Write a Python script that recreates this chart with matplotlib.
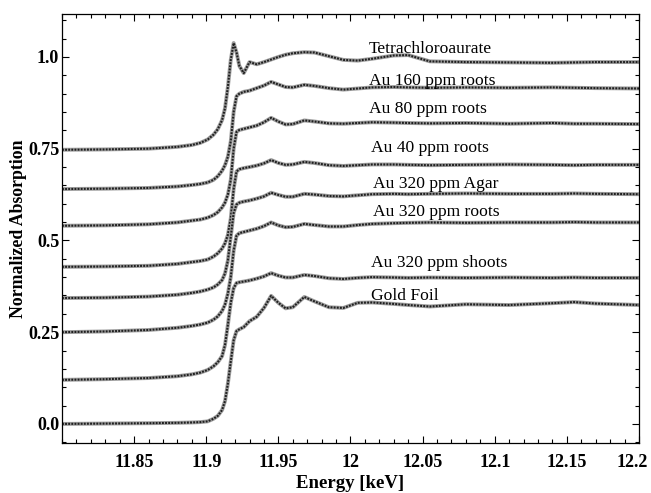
import matplotlib
matplotlib.use("Agg")
import matplotlib.pyplot as plt
import matplotlib.transforms as mtransforms
from matplotlib.ticker import FixedLocator, MultipleLocator

# energy grid shared by all spectra (keV)
energy = [11.800, 11.830, 11.860, 11.880, 11.890, 11.896, 11.901, 11.905,
          11.908, 11.911, 11.913, 11.915, 11.917, 11.919, 11.921, 11.923,
          11.926, 11.930, 11.935, 11.940, 11.945, 11.950, 11.955, 11.960,
          11.968, 11.975, 11.985, 11.995, 12.005, 12.015, 12.030, 12.040,
          12.055, 12.080, 12.110, 12.140, 12.155, 12.170, 12.200]

tetrachloroaurate = [0.747, 0.748, 0.750, 0.755, 0.760, 0.766, 0.775, 0.788,
                     0.803, 0.828, 0.860, 0.918, 0.992, 1.038, 1.012, 0.975,
                     0.956, 0.986, 0.980, 0.986, 0.993, 1.000, 1.006, 1.010,
                     1.013, 1.012, 1.002, 0.992, 0.990, 0.995, 1.004, 1.005,
                     0.988, 0.986, 0.985, 0.984, 0.985, 0.986, 0.986]

au160_roots = [0.640, 0.641, 0.643, 0.647, 0.651, 0.654, 0.658, 0.665,
               0.675, 0.690, 0.705, 0.728, 0.770, 0.850, 0.893, 0.900,
               0.905, 0.908, 0.915, 0.922, 0.932, 0.925, 0.918, 0.917,
               0.924, 0.921, 0.915, 0.911, 0.914, 0.917, 0.918, 0.917,
               0.916, 0.917, 0.916, 0.917, 0.916, 0.915, 0.914]

au80_roots = [0.540, 0.541, 0.544, 0.549, 0.554, 0.557, 0.562, 0.569,
              0.577, 0.590, 0.603, 0.625, 0.665, 0.750, 0.796, 0.801,
              0.804, 0.808, 0.813, 0.822, 0.834, 0.824, 0.816, 0.817,
              0.827, 0.824, 0.819, 0.818, 0.820, 0.822, 0.821, 0.820,
              0.819, 0.820, 0.818, 0.820, 0.818, 0.818, 0.817]

au40_roots = [0.428, 0.429, 0.431, 0.436, 0.441, 0.444, 0.448, 0.456,
              0.465, 0.478, 0.492, 0.515, 0.560, 0.640, 0.688, 0.694,
              0.697, 0.700, 0.704, 0.710, 0.719, 0.711, 0.706, 0.707,
              0.714, 0.711, 0.705, 0.703, 0.705, 0.707, 0.707, 0.706,
              0.705, 0.706, 0.707, 0.706, 0.705, 0.706, 0.706]

au320_agar = [0.343, 0.344, 0.347, 0.352, 0.357, 0.361, 0.366, 0.372,
              0.380, 0.392, 0.410, 0.445, 0.510, 0.575, 0.598, 0.603,
              0.606, 0.609, 0.614, 0.620, 0.630, 0.624, 0.619, 0.619,
              0.627, 0.625, 0.621, 0.620, 0.623, 0.626, 0.627, 0.626,
              0.627, 0.628, 0.627, 0.627, 0.628, 0.627, 0.626]

au320_roots = [0.250, 0.252, 0.256, 0.262, 0.267, 0.271, 0.276, 0.284,
               0.293, 0.308, 0.325, 0.355, 0.400, 0.472, 0.513, 0.520,
               0.523, 0.527, 0.532, 0.539, 0.549, 0.541, 0.536, 0.537,
               0.545, 0.542, 0.538, 0.538, 0.542, 0.545, 0.547, 0.548,
               0.549, 0.548, 0.549, 0.549, 0.550, 0.549, 0.549]

au320_shoots = [0.120, 0.122, 0.125, 0.130, 0.135, 0.140, 0.147, 0.157,
                0.168, 0.185, 0.215, 0.270, 0.330, 0.370, 0.384, 0.386,
                0.388, 0.391, 0.396, 0.402, 0.411, 0.404, 0.399, 0.399,
                0.406, 0.403, 0.397, 0.395, 0.398, 0.400, 0.399, 0.398,
                0.399, 0.398, 0.399, 0.398, 0.399, 0.398, 0.398]

gold_foil = [0.000, 0.001, 0.002, 0.003, 0.004, 0.005, 0.007, 0.014,
             0.022, 0.038, 0.062, 0.110, 0.170, 0.228, 0.253, 0.258,
             0.264, 0.280, 0.292, 0.316, 0.349, 0.330, 0.315, 0.318,
             0.346, 0.334, 0.318, 0.316, 0.330, 0.331, 0.327, 0.324,
             0.320, 0.326, 0.324, 0.329, 0.332, 0.328, 0.324]

series = [tetrachloroaurate, au160_roots, au80_roots, au40_roots,
          au320_agar, au320_roots, au320_shoots, gold_foil]
labels = ["Tetrachloroaurate", "Au 160 ppm roots", "Au 80 ppm roots",
          "Au 40 ppm roots", "Au 320 ppm Agar", "Au 320 ppm roots",
          "Au 320 ppm shoots", "Gold Foil"]
# label anchor (energy, baseline) for each spectrum name
label_x = [12.0125, 12.0125, 12.0125, 12.0139, 12.0153, 12.0153, 12.0139, 12.0139]
label_y = [1.011, 0.924, 0.847, 0.741, 0.643, 0.567, 0.428, 0.338]

x_ticks = [11.85, 11.9, 11.95, 12.0, 12.05, 12.1, 12.15, 12.2]
x_tick_labels = ["11.85", "11.9", "11.95", "12", "12.05", "12.1", "12.15", "12.2"]
y_ticks = [0.0, 0.25, 0.5, 0.75, 1.0]
y_tick_labels = ["0.0", "0.25", "0.5", "0.75", "1.0"]

serif = "Liberation Serif"

fig = plt.figure(figsize=(6.51, 4.93), dpi=100)
ax = fig.add_axes([0.0952, 0.1014, 0.8864, 0.8702])

for values in series:
    ax.plot(energy, values, color="0.62", lw=2.8, solid_capstyle="round",
            solid_joinstyle="round")
    ax.plot(energy, values, color="0.12", lw=1.5, linestyle=(0, (0.9, 0.6)))

for text, tx, ty in zip(labels, label_x, label_y):
    ax.text(tx, ty, text, family=serif, fontsize=12.6, va="baseline", ha="left")

ax.set_xlim(11.80, 12.20)
ax.set_ylim(-0.052, 1.117)

ax.xaxis.set_major_locator(FixedLocator(x_ticks))
ax.set_xticklabels(x_tick_labels)
ax.xaxis.set_minor_locator(MultipleLocator(0.01))
ax.yaxis.set_major_locator(FixedLocator(y_ticks))
ax.set_yticklabels(y_tick_labels)
ax.yaxis.set_minor_locator(MultipleLocator(0.05))

ax.tick_params(which="both", direction="in", top=True, right=True, width=0.8)
ax.tick_params(which="major", length=5)
ax.tick_params(which="minor", length=3)
ax.tick_params(axis="x", which="major", pad=8)
ax.tick_params(axis="y", which="major", pad=2)
for lab in ax.get_xticklabels() + ax.get_yticklabels():
    lab.set_family(serif)
    lab.set_fontweight("bold")
    lab.set_fontsize(13)

# last x label sits a little left so it stays inside the figure
last = ax.get_xticklabels()[-1]
last.set_transform(last.get_transform() +
                   mtransforms.ScaledTranslation(-7 / 100, 0, fig.dpi_scale_trans))

for spine in ax.spines.values():
    spine.set_linewidth(0.9)

ax.set_xlabel("Energy [keV]", family=serif, fontweight="bold", fontsize=13.5,
              labelpad=3)
ax.set_ylabel("Normalized Absorption", family=serif, fontweight="bold",
              fontsize=12.8, labelpad=1)

fig.savefig("out.png", dpi=100)
